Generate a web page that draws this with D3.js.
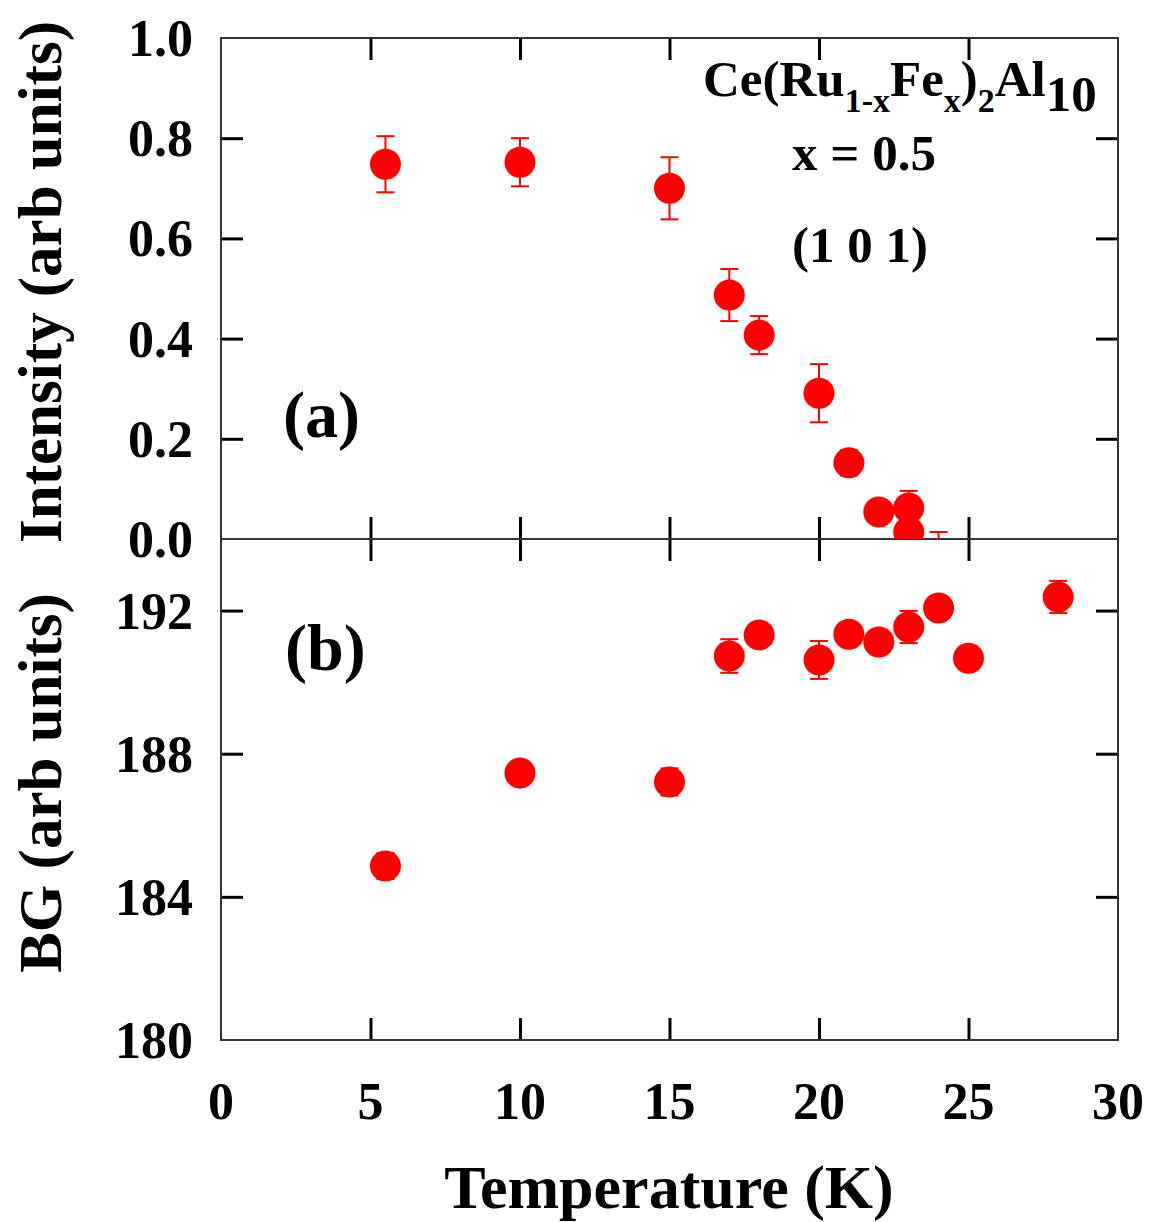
<!DOCTYPE html>
<html>
<head>
<meta charset="utf-8">
<script src="https://cdn.jsdelivr.net/npm/d3@7"></script>
<style>
  body { margin: 0; background: #fff; }
  text { font-family: "Liberation Serif", "Times New Roman", serif; font-weight: bold; }
</style>
</head>
<body>
<div class="chart"></div>
<script>

// panel (a): peak intensity
var tempA = [5.5, 10, 15, 17, 18, 20, 21, 22, 23, 23, 24];
var intensity = [0.748, 0.752, 0.70, 0.487, 0.407, 0.291, 0.152, 0.054, 0.062, 0.014, -0.03];
var intensityErr = [0.056, 0.048, 0.062, 0.052, 0.038, 0.058, 0.025, 0.01, 0.034, 0.02, 0.044];

// panel (b): background
var tempB = [5.5, 10, 15, 17, 18, 20, 21, 22, 23, 24, 25, 28];
var background = [184.86, 187.46, 187.21, 190.73, 191.32, 190.62, 191.34, 191.12, 191.54, 192.07, 190.67, 192.38];
var backgroundErr = [0.36, 0.2, 0.38, 0.47, 0.2, 0.53, 0.2, 0.2, 0.45, 0.2, 0.2, 0.45];

var xTicks = [0, 5, 10, 15, 20, 25, 30];
var yTicksA = [0.0, 0.2, 0.4, 0.6, 0.8, 1.0];
var yTicksB = [180, 184, 188, 192];

(function() {

	var width = 1149;
	var height = 1222;
	var pLeft = 221, pRight = 1118, pTop = 38, pMid = 539, pBottom = 1040;
	var tickLen = 22;

	var svg = d3.select(".chart")
				.append("svg")
				.attr("width", width)
				.attr("height", height)

	var xScale = d3.scaleLinear()
				   .domain([0, 30])
				   .range([pLeft, pRight]);

	var yA = d3.scaleLinear()
			   .domain([0, 1])
			   .range([pMid, pTop]);

	var yB = d3.scaleLinear()
			   .domain([180, 194])
			   .range([pBottom, pMid]);

	var defs = svg.append("defs")
	defs.append("clipPath").attr("id", "clipA")
		.append("rect").attr("x", pLeft).attr("y", pTop).attr("width", pRight - pLeft).attr("height", pMid - pTop)
	defs.append("clipPath").attr("id", "clipB")
		.append("rect").attr("x", pLeft).attr("y", pMid).attr("width", pRight - pLeft).attr("height", pBottom - pMid)

	// inward ticks, drawn with d3 axes
	function addAxis(axis, tx, ty) {
		var g = svg.append("g")
				   .attr("transform", "translate(" + tx + "," + ty + ")")
				   .call(axis)
		g.select(".domain").remove()
		g.selectAll(".tick line").attr("stroke", "#000").attr("stroke-width", 3)
		g.selectAll(".tick text").remove()
		return g
	}

	var innerX = xTicks.slice(1, -1);

	addAxis(d3.axisTop(xScale).tickValues(innerX).tickSizeInner(-tickLen), 0, pTop)
	addAxis(d3.axisBottom(xScale).tickValues(innerX).tickSizeInner(-tickLen), 0, pMid)
	addAxis(d3.axisTop(xScale).tickValues(innerX).tickSizeInner(-tickLen), 0, pMid)
	addAxis(d3.axisBottom(xScale).tickValues(innerX).tickSizeInner(-tickLen), 0, pBottom)

	addAxis(d3.axisLeft(yA).tickValues(yTicksA.slice(1, -1)).tickSizeInner(-tickLen), pLeft, 0)
	addAxis(d3.axisRight(yA).tickValues(yTicksA.slice(1, -1)).tickSizeInner(-tickLen), pRight, 0)
	addAxis(d3.axisLeft(yB).tickValues(yTicksB.slice(1)).tickSizeInner(-tickLen), pLeft, 0)
	addAxis(d3.axisRight(yB).tickValues(yTicksB.slice(1)).tickSizeInner(-tickLen), pRight, 0)

	// frame
	svg.append("rect")
	   .attr("x", pLeft).attr("y", pTop)
	   .attr("width", pRight - pLeft).attr("height", pBottom - pTop)
	   .attr("fill", "none").attr("stroke", "#333").attr("stroke-width", 2)
	svg.append("line")
	   .attr("x1", pLeft).attr("x2", pRight).attr("y1", pMid).attr("y2", pMid)
	   .attr("stroke", "#333").attr("stroke-width", 2)

	// tick labels
	svg.selectAll(".xlab")
	   .data(xTicks)
	   .enter()
	   .append("text")
	   .text(function(d) { return d; })
	   .attr("x", function(d) { return xScale(d); })
	   .attr("y", 1119)
	   .attr("text-anchor", "middle")
	   .attr("font-size", "52px")

	svg.selectAll(".ylabA")
	   .data(yTicksA)
	   .enter()
	   .append("text")
	   .text(function(d) { return d.toFixed(1); })
	   .attr("x", 193)
	   .attr("y", function(d) { return yA(d) + 18; })
	   .attr("text-anchor", "end")
	   .attr("font-size", "52px")

	svg.selectAll(".ylabB")
	   .data(yTicksB)
	   .enter()
	   .append("text")
	   .text(function(d) { return d; })
	   .attr("x", 193)
	   .attr("y", function(d) { return yB(d) + 18; })
	   .attr("text-anchor", "end")
	   .attr("font-size", "52px")

	// axis titles
	svg.append("text")
	   .text("Temperature (K)")
	   .attr("x", 669)
	   .attr("y", 1208)
	   .attr("text-anchor", "middle")
	   .attr("font-size", "62px")

	svg.append("text")
	   .text("Intensity (arb units)")
	   .attr("transform", "translate(61,282) rotate(-90)")
	   .attr("text-anchor", "middle")
	   .attr("font-size", "61px")

	svg.append("text")
	   .text("BG (arb units)")
	   .attr("transform", "translate(61,783) rotate(-90)")
	   .attr("text-anchor", "middle")
	   .attr("font-size", "61px")

	// data marks: error bars under filled circles
	function drawSeries(xs, ys, errs, yScale, clip) {
		var g = svg.append("g").attr("clip-path", "url(#" + clip + ")")
		var pts = xs.map(function(x, i) { return { x: x, y: ys[i], e: errs[i] }; })

		var bars = g.selectAll(".err")
					.data(pts)
					.enter()
					.append("g")
					.attr("stroke", "#ff0000")
					.attr("stroke-width", 2)

		bars.append("line")
			.attr("x1", function(d) { return xScale(d.x); })
			.attr("x2", function(d) { return xScale(d.x); })
			.attr("y1", function(d) { return yScale(d.y - d.e); })
			.attr("y2", function(d) { return yScale(d.y + d.e); })
		bars.append("line")
			.attr("x1", function(d) { return xScale(d.x) - 9; })
			.attr("x2", function(d) { return xScale(d.x) + 9; })
			.attr("y1", function(d) { return yScale(d.y + d.e); })
			.attr("y2", function(d) { return yScale(d.y + d.e); })
		bars.append("line")
			.attr("x1", function(d) { return xScale(d.x) - 9; })
			.attr("x2", function(d) { return xScale(d.x) + 9; })
			.attr("y1", function(d) { return yScale(d.y - d.e); })
			.attr("y2", function(d) { return yScale(d.y - d.e); })

		g.selectAll("circle")
		 .data(pts)
		 .enter()
		 .append("circle")
		 .attr("cx", function(d) { return xScale(d.x); })
		 .attr("cy", function(d) { return yScale(d.y); })
		 .attr("r", 15.5)
		 .attr("fill", "#ff0000")
	}

	drawSeries(tempA, intensity, intensityErr, yA, "clipA")
	drawSeries(tempB, background, backgroundErr, yB, "clipB")

	// annotations
	var formula = svg.append("text")
					 .attr("x", 703)
					 .attr("y", 96)
					 .attr("font-size", "51px")
	formula.append("tspan").text("Ce(Ru")
	formula.append("tspan").text("1-x").attr("font-size", "34px").attr("dy", 16)
	formula.append("tspan").text("Fe").attr("dy", -16)
	formula.append("tspan").text("x").attr("font-size", "34px").attr("dy", 16)
	formula.append("tspan").text(")").attr("dy", -16)
	formula.append("tspan").text("2").attr("font-size", "34px").attr("dy", 16)
	formula.append("tspan").text("Al").attr("dy", -16)
	formula.append("tspan").text("10").attr("font-size", "51px").attr("dy", 15)

	svg.append("text")
	   .text("x = 0.5")
	   .attr("x", 864)
	   .attr("y", 170)
	   .attr("text-anchor", "middle")
	   .attr("font-size", "51px")

	svg.append("text")
	   .text("(1 0 1)")
	   .attr("x", 860)
	   .attr("y", 262)
	   .attr("text-anchor", "middle")
	   .attr("font-size", "51px")

	svg.append("text")
	   .text("(a)")
	   .attr("x", 283)
	   .attr("y", 437)
	   .attr("font-size", "66px")

	svg.append("text")
	   .text("(b)")
	   .attr("x", 285)
	   .attr("y", 670)
	   .attr("font-size", "66px")

}())

</script>
</body>
</html>
